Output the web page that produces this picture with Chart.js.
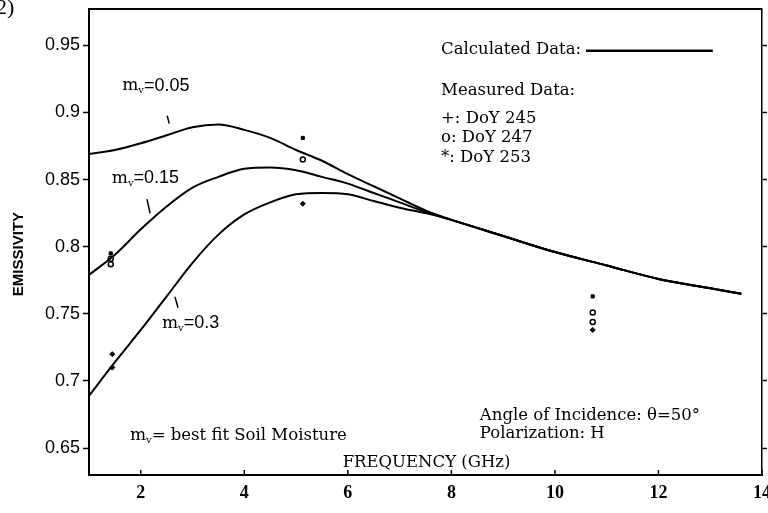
<!DOCTYPE html>
<html>
<head>
<meta charset="utf-8">
<script src="https://cdn.jsdelivr.net/npm/chart.js@4"></script>
<style>
  html, body { margin: 0; padding: 0; background: #fff; }
  #wrap { width: 768px; height: 513px; position: relative; }
</style>
</head>
<body>
<div id="wrap"><canvas id="canvas1"></canvas></div>
<script>
"use strict";

// calculated curves (frequency GHz -> emissivity)
const freq = [1.0, 1.5, 2.0, 2.5, 3.0, 3.5, 4.0, 4.5, 5.0, 5.5, 6.0, 6.5, 7.0, 7.5, 8, 9, 10, 11, 12, 13, 13.6];
const mv005 = [0.869, 0.872, 0.877, 0.883, 0.889, 0.891, 0.887, 0.881, 0.872, 0.864, 0.854, 0.845, 0.836, 0.827, 0.820, 0.808, 0.796, 0.786, 0.776, 0.769, 0.765];
const mv015 = [0.779, 0.794, 0.813, 0.830, 0.844, 0.852, 0.858, 0.859, 0.857, 0.852, 0.847, 0.840, 0.833, 0.826, 0.820, 0.808, 0.796, 0.786, 0.776, 0.769, 0.765];
const mv030 = [0.689, 0.714, 0.738, 0.763, 0.788, 0.809, 0.824, 0.833, 0.839, 0.840, 0.839, 0.834, 0.829, 0.825, 0.820, 0.808, 0.796, 0.786, 0.776, 0.769, 0.765];

// measured data
const doy245 = [{ x: 1.45, y: 0.720 }, { x: 1.45, y: 0.710 }, { x: 5.13, y: 0.832 }, { x: 10.73, y: 0.738 }];
const doy247 = [{ x: 1.42, y: 0.791 }, { x: 1.42, y: 0.787 }, { x: 5.13, y: 0.865 }, { x: 10.73, y: 0.751 }, { x: 10.73, y: 0.744 }];
const doy253 = [{ x: 1.42, y: 0.795 }, { x: 5.13, y: 0.881 }, { x: 10.73, y: 0.763 }];

// ticks
const xTicks = [2, 4, 6, 8, 10, 12, 14];
const yTicks = [0.65, 0.7, 0.75, 0.8, 0.85, 0.9, 0.95];

const serif = "'DejaVu Serif', 'Liberation Serif', serif";
const sans = "'Liberation Sans', Arial, sans-serif";

function pts(ys) {
    return freq.map((f, i) => ({ x: f, y: ys[i] }));
}

function curve(ys) {
    return {
        data: pts(ys),
        showLine: true,
        borderColor: "#000",
        borderWidth: 2,
        pointRadius: 0,
        cubicInterpolationMode: "monotone",
        fill: false,
    };
}

// texts and little pointer marks, placed in data units
const labels = [
    { rest: "=0.05", x: 1.64, y: 0.920 },
    { rest: "=0.15", x: 1.44, y: 0.851 },
    { rest: "=0.3", x: 2.41, y: 0.743 },
];
const pointers = [
    [2.51, 0.8976, 2.55, 0.8916],
    [2.12, 0.8354, 2.18, 0.8249],
    [2.66, 0.7627, 2.72, 0.7545],
];

function mv(ctx, x, y) {
    ctx.font = "17px " + serif;
    ctx.fillText("m", x, y);
    x += ctx.measureText("m").width;
    ctx.font = "10px " + serif;
    ctx.fillText("v", x, y + 5);
    return x + ctx.measureText("v").width;
}

const annot = {
    id: "annot",
    afterDraw(chart) {
        const ctx = chart.ctx;
        const xs = chart.scales.x;
        const ys = chart.scales.y;
        const ca = chart.chartArea;
        const px = v => xs.getPixelForValue(v);
        const py = v => ys.getPixelForValue(v);
        ctx.save();
        ctx.strokeStyle = "#000";
        ctx.fillStyle = "#000";

        // top frame line
        ctx.lineWidth = 2;
        ctx.beginPath();
        ctx.moveTo(ca.left, ca.top);
        ctx.lineTo(ca.right, ca.top);
        ctx.stroke();

        // inward ticks on x axis
        ctx.lineWidth = 1.5;
        xTicks.forEach(v => {
            ctx.beginPath();
            ctx.moveTo(px(v), ca.bottom);
            ctx.lineTo(px(v), ca.bottom - 5);
            ctx.stroke();
        });

        // pointers
        pointers.forEach(p => {
            ctx.beginPath();
            ctx.moveTo(px(p[0]), py(p[1]));
            ctx.lineTo(px(p[2]), py(p[3]));
            ctx.stroke();
        });

        ctx.textBaseline = "middle";
        ctx.textAlign = "left";

        // m_v labels
        labels.forEach(l => {
            let x = mv(ctx, px(l.x), py(l.y));
            ctx.font = "18px " + sans;
            ctx.fillText(l.rest, x, py(l.y));
        });

        // best fit note
        {
            let x = mv(ctx, px(1.79), py(0.6594));
            ctx.font = "16.5px " + serif;
            ctx.fillText("= best fit Soil Moisture", x, py(0.6594));
        }

        ctx.font = "16.5px " + serif;
        ctx.fillText("FREQUENCY (GHz)", px(5.9), py(0.6395));
        ctx.fillText("Angle of Incidence: \u03B8=50\u00B0", px(8.55), py(0.6738));
        ctx.fillText("Polarization: H", px(8.55), py(0.6604));

        // legend
        ctx.fillText("Calculated Data:", px(7.8), py(0.9465));
        ctx.lineWidth = 2.5;
        ctx.beginPath();
        ctx.moveTo(px(10.6), py(0.946));
        ctx.lineTo(px(13.05), py(0.946));
        ctx.stroke();
        ctx.fillText("Measured Data:", px(7.8), py(0.9165));
        ctx.fillText("+: DoY 245", px(7.8), py(0.8955));
        ctx.fillText("o: DoY 247", px(7.8), py(0.881));
        ctx.fillText("*: DoY 253", px(7.8), py(0.8665));

        // y title
        ctx.save();
        ctx.translate(19, py(0.7945));
        ctx.rotate(-Math.PI / 2);
        ctx.textAlign = "center";
        ctx.font = "bold 15px " + sans;
        ctx.fillText("EMISSIVITY", 0, 0);
        ctx.restore();

        // panel number
        ctx.font = "22px 'Liberation Serif', serif";
        ctx.fillText("2)", -4, 8);
        ctx.restore();
    }
};

let chart1 = null;

function ShowChart() {
    let canvas1 = document.querySelector("#canvas1");

    let opts = {
        type: "scatter",
        data: {
            datasets: [
                curve(mv005),
                curve(mv015),
                curve(mv030),
                { label: "DoY 245", data: doy245, pointStyle: "rectRot", pointRadius: 2.5, backgroundColor: "#000", borderColor: "#000", borderWidth: 1 },
                { label: "DoY 247", data: doy247, pointStyle: "circle", pointRadius: 2.5, backgroundColor: "#fff", borderColor: "#000", borderWidth: 1.5 },
                { label: "DoY 253", data: doy253, pointStyle: "rect", pointRadius: 2.2, backgroundColor: "#000", borderColor: "#000", borderWidth: 1 },
            ],
        },
        options: {
            responsive: true,
            maintainAspectRatio: false,
            animation: false,
            layout: { padding: { top: 9, left: 0, right: 0, bottom: 0 } },
            plugins: { legend: { display: false }, tooltip: { enabled: false } },
            scales: {
                x: {
                    type: "linear",
                    position: "bottom",
                    min: 1,
                    max: 14,
                    afterBuildTicks: s => { s.ticks = xTicks.map(v => ({ value: v })); },
                    afterFit: s => { s.height = 38; s.paddingLeft = 0; s.paddingRight = 0; },
                    grid: { drawOnChartArea: false, drawTicks: false },
                    border: { color: "#000", width: 2 },
                    ticks: { color: "#000", padding: 8, font: { family: "'Liberation Serif', serif", size: 18, weight: "bold" }, maxRotation: 0 },
                },
                y: {
                    position: "left",
                    min: 0.63,
                    max: 0.977,
                    afterBuildTicks: s => { s.ticks = yTicks.map(v => ({ value: v })); },
                    afterFit: s => { s.width = 89; s.paddingTop = 0; s.paddingBottom = 0; },
                    grid: { drawOnChartArea: false, color: "#000", tickLength: 6, tickWidth: 1.5 },
                    border: { color: "#000", width: 2 },
                    ticks: { color: "#000", padding: 3, font: { family: sans, size: 18 }, callback: v => String(v) },
                },
                y2: {
                    position: "right",
                    min: 0.63,
                    max: 0.977,
                    afterBuildTicks: s => { s.ticks = yTicks.map(v => ({ value: v })); },
                    afterFit: s => { s.width = 6; s.paddingTop = 0; s.paddingBottom = 0; },
                    grid: { drawOnChartArea: false, color: "#000", tickLength: 5, tickWidth: 1.5 },
                    border: { color: "#000", width: 1.5 },
                    ticks: { display: false },
                },
            },
        },
        plugins: [annot],
    };

    chart1 = new Chart(canvas1, opts);
}

ShowChart();
</script>
</body>
</html>
